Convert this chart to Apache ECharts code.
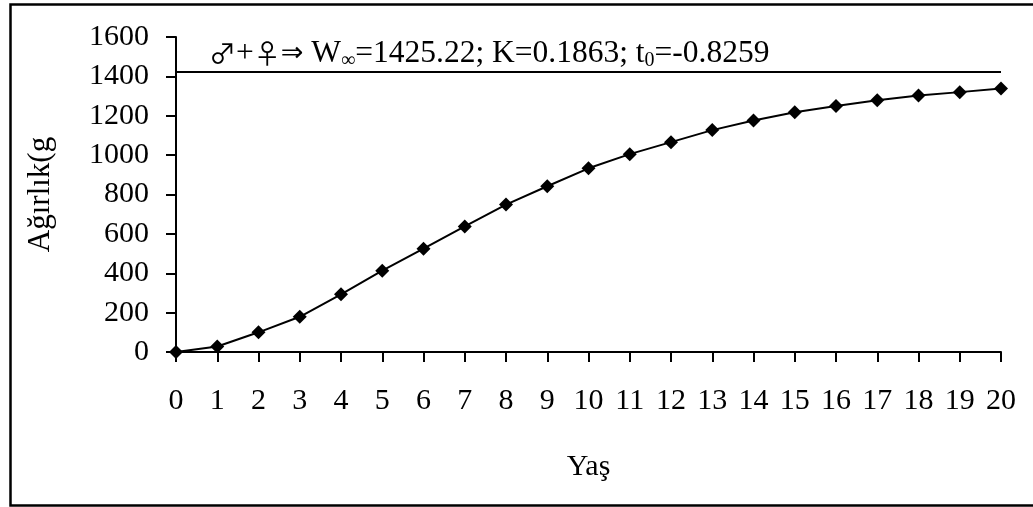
<!DOCTYPE html>
<html>
<head>
<meta charset="utf-8">
<script src="https://cdn.jsdelivr.net/npm/echarts@6/dist/echarts.min.js"></script>
<style>html,body{margin:0;padding:0;background:#fff;}#c{width:1033px;height:507px;}</style>
</head>
<body>
<div id="c"></div>
<script>
var ages = [0,1,2,3,4,5,6,7,8,9,10,11,12,13,14,15,16,17,18,19,20];
var weights = [0,28,100,179,293,413,525,638,749,842,933,1005,1066,1127,1176,1218,1249,1279,1303,1320,1339];
var wInf = 1425.22;
var yTicks = [0,200,400,600,800,1000,1200,1400,1600];
var xName = 'Yaş';
var yName = 'Ağırlık(g';

var font = '"Liberation Serif", "Times New Roman", "DejaVu Serif", serif';
var symFont = '"Noto Sans CJK SC", "DejaVu Sans", sans-serif';
var arrFont = '"DejaVu Sans", sans-serif';
var chart = echarts.init(document.getElementById('c'), null, {renderer: 'canvas'});
chart.setOption({
  animation: false,
  backgroundColor: '#fff',
  grid: {left: 176, right: 32, top: 37, bottom: 155},
  graphic: [
    {type: 'rect', left: 8, top: 2, shape: {width: 1040, height: 501},
     style: {fill: 'none', stroke: '#000', lineWidth: 2.5}, silent: true, z: 100},
    {type: 'text', left: 209, top: 38, z: 100,
     style: {
       text: '{g|♂}{m|+}{g|♀}{a|⇒}{m| W}{s|∞}{m|=1425.22; K=0.1863; t}{s|0}{m|=-0.8259}',
       rich: {
         m: {fontFamily: font, fontSize: 31.5, lineHeight: 34, fill: '#000', verticalAlign: 'middle'},
         g: {fontFamily: symFont, fontSize: 27, lineHeight: 34, fill: '#000', verticalAlign: 'middle'},
         a: {fontFamily: arrFont, fontSize: 27, lineHeight: 34, fill: '#000', verticalAlign: 'middle'},
         s: {fontFamily: font, fontSize: 20, lineHeight: 20, fill: '#000', verticalAlign: 'bottom'}
       }
     }}
  ],
  xAxis: {
    type: 'value', min: 0, max: 20, interval: 1,
    name: xName, nameLocation: 'middle', nameGap: 100,
    nameTextStyle: {fontFamily: font, fontSize: 30, color: '#000'},
    axisLine: {show: true, lineStyle: {color: '#000', width: 2}},
    axisTick: {show: true, inside: false, length: 10, lineStyle: {color: '#000', width: 2}},
    axisLabel: {fontFamily: font, fontSize: 30, color: '#000', margin: 34},
    splitLine: {show: false}
  },
  yAxis: {
    type: 'value', min: yTicks[0], max: yTicks[yTicks.length-1], interval: 200,
    name: yName, nameLocation: 'middle', nameGap: 120, nameRotate: 90,
    nameTextStyle: {fontFamily: font, fontSize: 31, color: '#000'},
    axisLine: {show: true, lineStyle: {color: '#000', width: 2}},
    axisTick: {show: true, inside: false, length: 10, lineStyle: {color: '#000', width: 2}},
    axisLabel: {fontFamily: font, fontSize: 30, color: '#000', margin: 27,
                formatter: function(v){ return String(v); }},
    splitLine: {show: false}
  },
  series: [{
    type: 'line',
    data: ages.map(function(a, i){ return [a, weights[i]]; }),
    symbol: 'diamond', symbolSize: 14,
    lineStyle: {color: '#000', width: 2},
    itemStyle: {color: '#000'},
    markLine: {
      silent: true, symbol: ['none','none'],
      label: {show: false},
      lineStyle: {color: '#000', width: 2, type: 'solid'},
      data: [{yAxis: wInf}]
    }
  }]
});
</script>
</body>
</html>
